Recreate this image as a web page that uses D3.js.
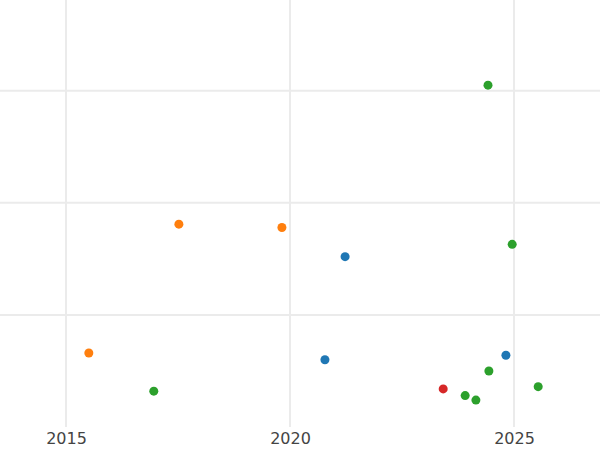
<!DOCTYPE html>
<html>
<head>
<meta charset="utf-8">
<script src="https://cdn.jsdelivr.net/npm/d3@7"></script>
<style>
  body { margin: 0; background: #fff; }
  .grid line { stroke: #ebebeb; stroke-width: 2; }
  .axis text { font-family: "DejaVu Sans", sans-serif; font-size: 16px; fill: #444; }
</style>
</head>
<body>
<div id="chart"></div>
<script>
// data
var groups = ["blue", "orange", "green", "red"];
var years  = [2024.42, 2017.52, 2019.82, 2021.23, 2024.96, 2015.51, 2020.78, 2024.82, 2024.44, 2023.42, 2023.91, 2024.15, 2025.54, 2016.96];
var values = [3.05, 1.81, 1.78, 1.52, 1.63, 0.66, 0.60, 0.64, 0.50, 0.34, 0.28, 0.24, 0.36, 0.32];
var pointGroup = ["green", "orange", "orange", "blue", "green", "orange", "blue", "blue", "green", "red", "green", "green", "green", "green"];
var xTicks = [2015, 2020, 2025];
var yTicks = [1, 2, 3];

var colour = {
    "blue": "#1f77b4",
    "orange": "#ff7f0e",
    "green": "#2ca02c",
    "red": "#d62728"
  };

var width = 600, height = 450,
    plotBottom = 427;

var x = d3.scaleLinear().domain([2013.527, 2026.92]).range([0, width]);
var y = d3.scaleLinear().domain([0, 3.81]).range([plotBottom, 0]);

var svg = d3.select("#chart")
        .append("svg")
            .attr("width", width)
            .attr("height", height);

// vertical grid
svg.append("g")
    .attr("class", "grid")
    .selectAll("line")
    .data(xTicks)
    .enter()
    .append("line")
    .attr("x1", function (d) {return x(d);})
    .attr("x2", function (d) {return x(d);})
    .attr("y1", 0)
    .attr("y2", plotBottom);

// horizontal grid
svg.append("g")
    .attr("class", "grid")
    .selectAll("line")
    .data(yTicks)
    .enter()
    .append("line")
    .attr("x1", 0)
    .attr("x2", width)
    .attr("y1", function (d) {return y(d);})
    .attr("y2", function (d) {return y(d);});

var xAxis = svg.append("g")
    .attr("class", "axis")
    .attr("transform", "translate(0," + plotBottom + ")")
    .call(d3.axisBottom(x).tickValues(xTicks).tickFormat(d3.format("d")).tickSize(0).tickPadding(6));
xAxis.select(".domain").remove();

var points = years.map(function (d, i) {
    return {year: d, value: values[i], group: pointGroup[i]};
});

svg.append("g")
    .selectAll("circle")
    .data(points)
    .enter()
    .append("circle")
    .attr("cx", function (d) {return x(d.year);})
    .attr("cy", function (d) {return y(d.value);})
    .attr("r", 4.5)
    .style("fill", function (d) {return colour[d.group];});
</script>
</body>
</html>
